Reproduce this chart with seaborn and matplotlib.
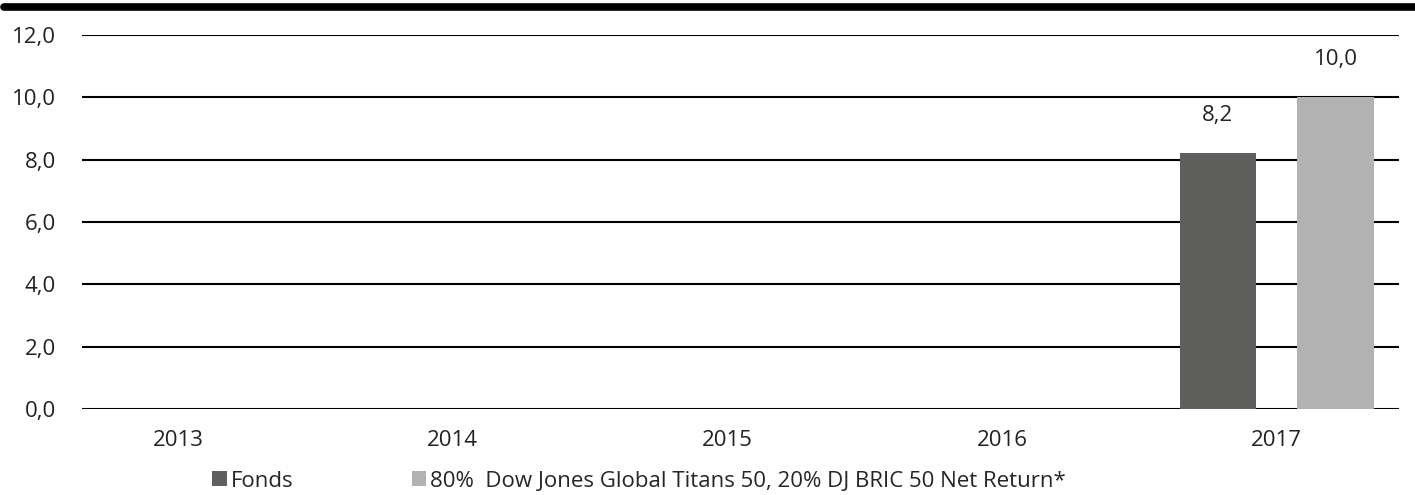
import pandas as pd
import numpy as np
import seaborn as sns
import matplotlib.pyplot as plt
from matplotlib.lines import Line2D
from matplotlib.patches import Patch

# data
years = ['2013', '2014', '2015', '2016', '2017']
fonds = [np.nan, np.nan, np.nan, np.nan, 8.2]
benchmark = [np.nan, np.nan, np.nan, np.nan, 10.0]
series_names = ['Fonds', '80%  Dow Jones Global Titans 50, 20% DJ BRIC 50 Net Return*']
colors = ['#5f5f5e', '#b2b2b2']
yticks = [0, 2, 4, 6, 8, 10, 12]

df = pd.DataFrame({
    'Jahr': years * 2,
    'Wert': fonds + benchmark,
    'Serie': [series_names[0]] * len(years) + [series_names[1]] * len(years),
})

sns.set_style('white')
plt.rcParams['font.family'] = ['Open Sans', 'DejaVu Sans']

fig = plt.figure(figsize=(14.15, 4.95), dpi=100)
ax = fig.add_axes([0.058, 0.1737, 0.931, 0.7556])

sns.barplot(data=df, x='Jahr', y='Wert', hue='Serie', order=years,
            hue_order=series_names, palette=colors, width=0.857, gap=0.35,
            saturation=1, linewidth=0, edgecolor='none', ax=ax, legend=False)

# value labels
for cont in ax.containers:
    for bar in cont:
        h = bar.get_height()
        if np.isnan(h) or h == 0:
            continue
        ax.annotate(f'{h:.1f}'.replace('.', ','),
                    (bar.get_x() + bar.get_width() / 2, h),
                    xytext=(0, 20), textcoords='offset points',
                    ha='center', va='bottom', fontsize=16, color='#222222')

ax.set_ylim(0, 12)
ax.set_xlim(-0.349, 4.447)
ax.set_yticks(yticks)
ax.set_yticklabels([f'{v:.1f}'.replace('.', ',') for v in yticks])
ax.yaxis.grid(True, color='black', linewidth=1.5)
ax.set_axisbelow(True)
ax.tick_params(axis='y', length=0, pad=19, labelsize=16, labelcolor='#222222')
ax.tick_params(axis='x', length=0, pad=15, labelsize=16, labelcolor='#222222')
ax.set_xlabel('')
ax.set_ylabel('')
for side in ['top', 'right', 'left', 'bottom']:
    ax.spines[side].set_visible(False)

# thick black rule at the top
fig.add_artist(Line2D([0.003, 1], [0.986, 0.986], color='black', linewidth=5.5,
                      transform=fig.transFigure))

handles = [Patch(facecolor=c, edgecolor='none') for c in colors]
fig.legend(handles, series_names, loc='center left', bbox_to_anchor=(0.150, 0.028),
           ncol=2, frameon=False, fontsize=16, handlelength=0.65, handleheight=0.65,
           handletextpad=0.2, columnspacing=5.3, borderaxespad=0, borderpad=0)

fig.savefig('out.png', dpi=100)
